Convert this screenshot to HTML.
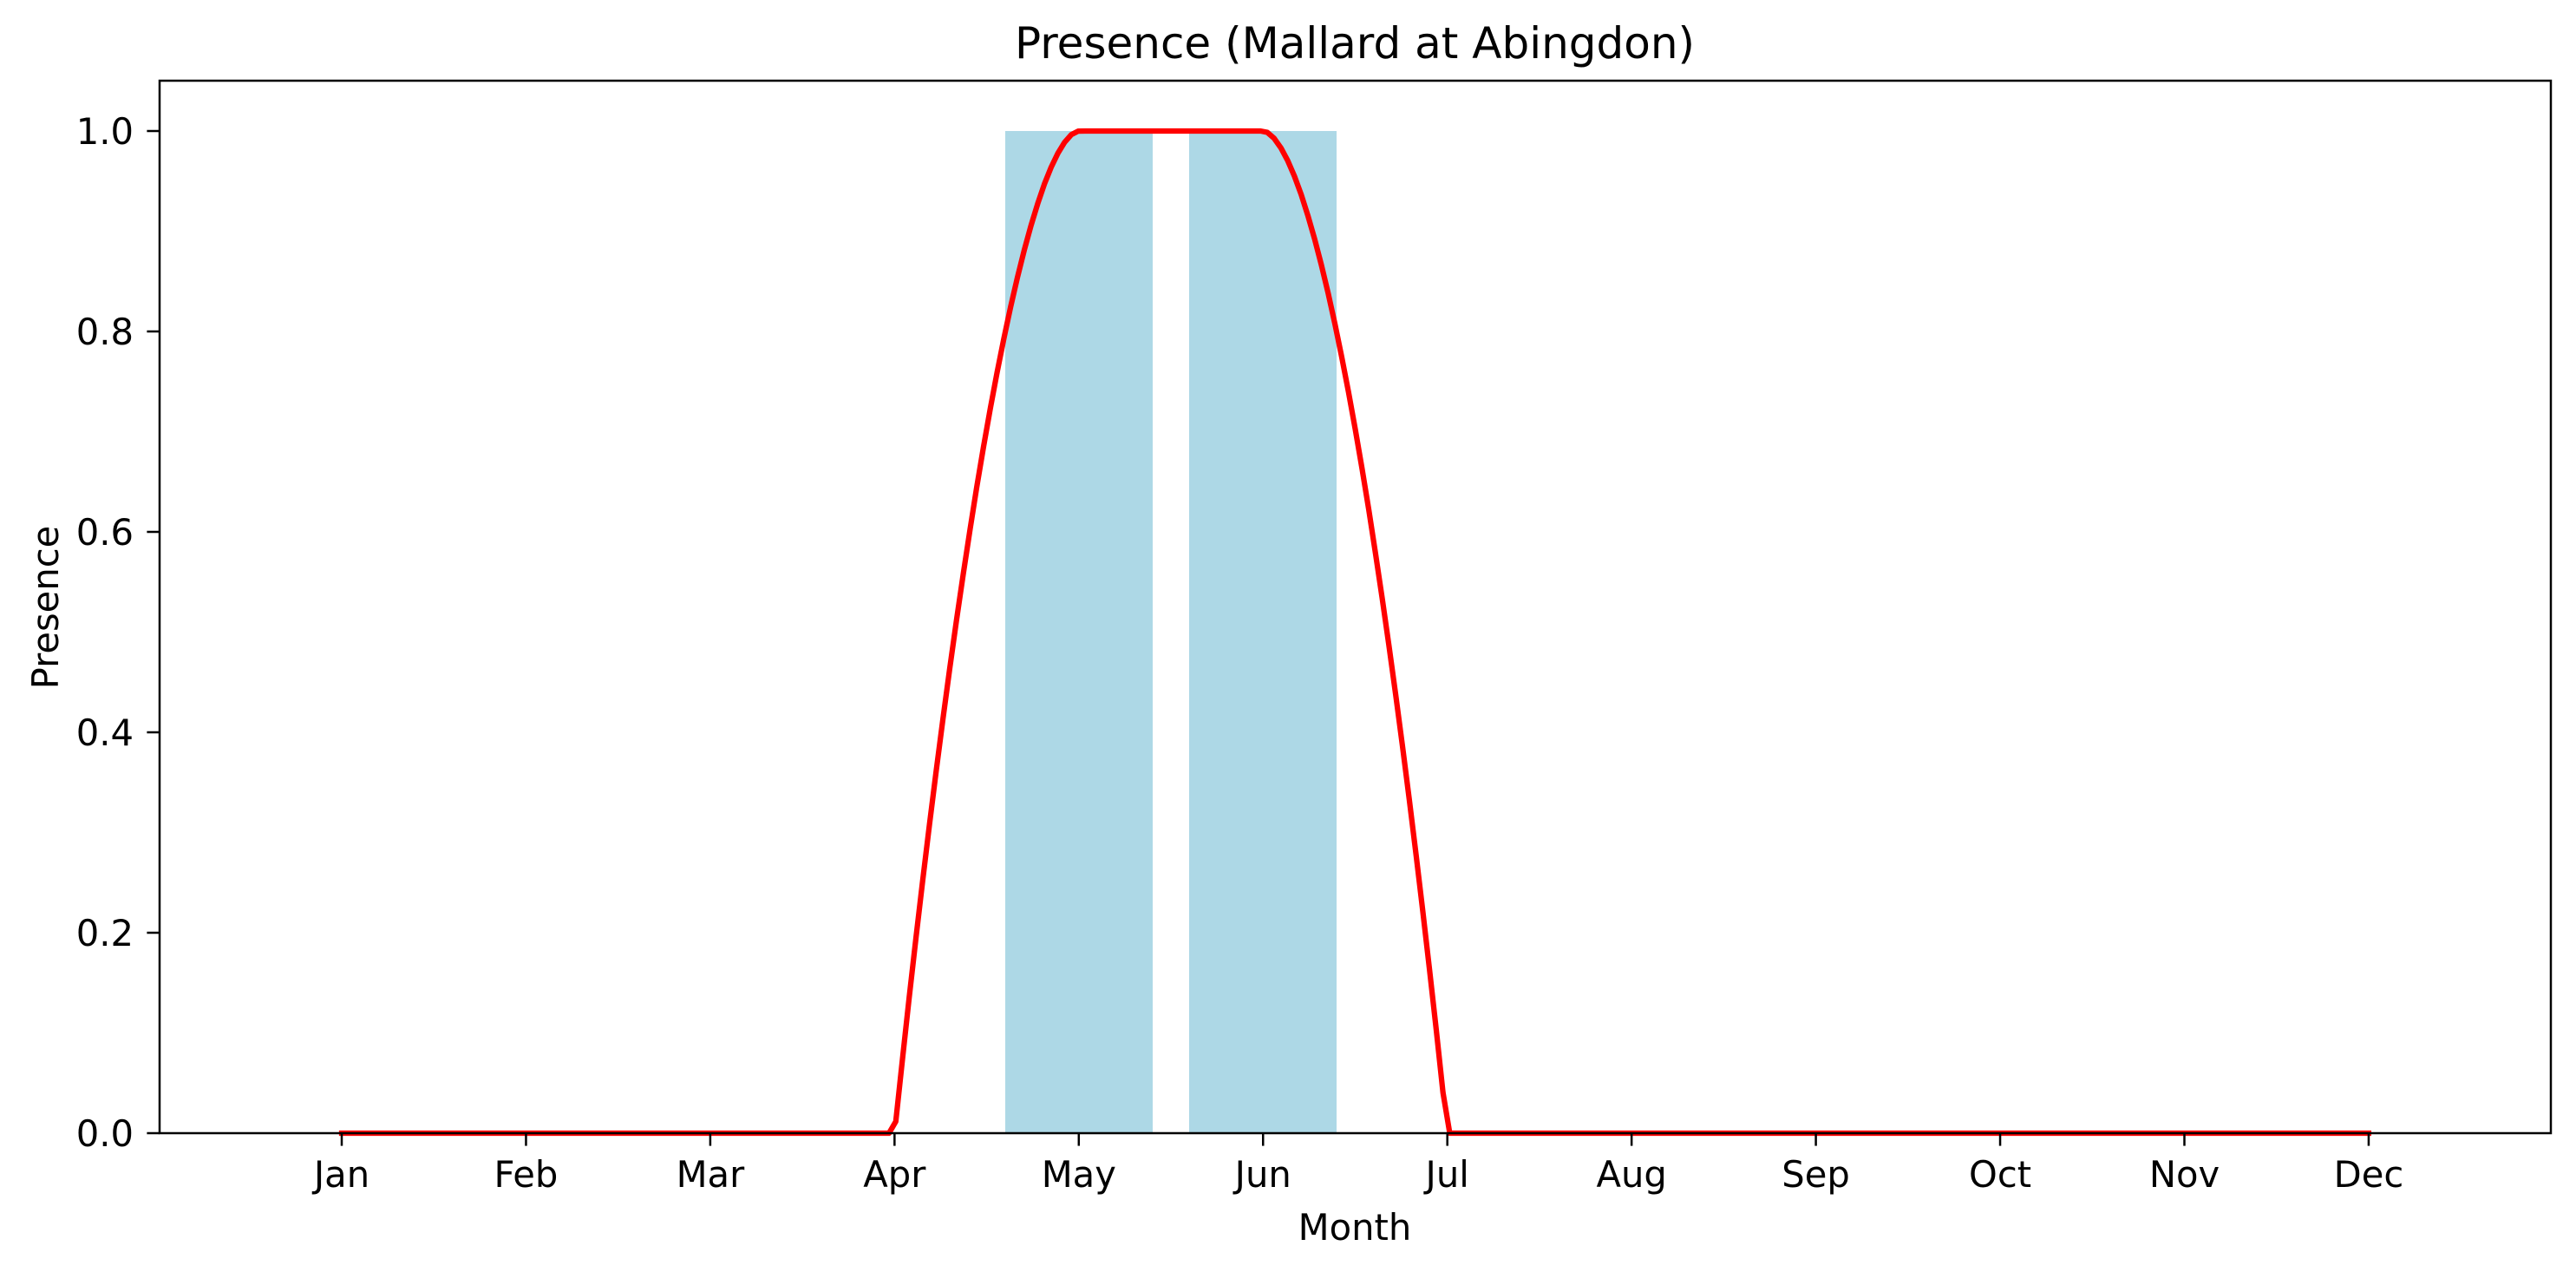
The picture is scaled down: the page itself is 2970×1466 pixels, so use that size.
<!DOCTYPE html>
<html><head><meta charset="utf-8"><style>
html,body{margin:0;padding:0;background:#fff;}
svg{display:block;font-family:"DejaVu Sans","Liberation Sans",sans-serif;}
</style></head><body>
<svg id="s" width="2970" height="1466" viewBox="0 0 2970 1466" xmlns="http://www.w3.org/2000/svg">
<rect width="2970" height="1466" fill="#fff"/>
<rect x="1159" y="151" width="170" height="1155" fill="#add8e6"/>
<rect x="1371" y="151" width="170" height="1155" fill="#add8e6"/>
<path id="curve" d="" fill="none" stroke="#ff0000" stroke-width="6.25" stroke-linejoin="round" stroke-linecap="square"/>
<rect x="184" y="93" width="2757" height="1213" fill="none" stroke="#000" stroke-width="2.5"/>
<g stroke="#000" stroke-width="2.5" id="ticks"></g>
<g font-size="41.7" fill="#000" id="labels"></g>
<text x="1562" y="67" font-size="50" text-anchor="middle">Presence (Mallard at Abingdon)</text>
<text x="1562" y="1429" font-size="41.7" text-anchor="middle">Month</text>
<text transform="translate(67,700) rotate(-90)" font-size="41.7" text-anchor="middle">Presence</text>
</svg>
<script>
(function(){
var ns="http://www.w3.org/2000/svg";
var x0=394,dx=212.45,y0=1306,yu=1155;
function X(m){return x0+(m-1)*dx;}
function Y(v){return y0-v*yu;}
var p=1.75,pts=[];
for(var i=0;i<=300;i++){
 var m=1+11*i/300;var v=0;
 if(m>4&&m<5){var t=m-4;v=1-Math.pow(1-t,p);}
 else if(m>=5&&m<=6){v=1;}
 else if(m>6&&m<7){var t=m-6;v=1-Math.pow(t,p);}
 pts.push(X(m).toFixed(1)+","+Y(v).toFixed(1));
}
document.getElementById("curve").setAttribute("d","M"+pts.join("L"));
var tk=document.getElementById("ticks"),lb=document.getElementById("labels");
var mons=["Jan","Feb","Mar","Apr","May","Jun","Jul","Aug","Sep","Oct","Nov","Dec"];
for(var k=0;k<12;k++){
 var x=X(k+1);
 var l=document.createElementNS(ns,"line");
 l.setAttribute("x1",x);l.setAttribute("x2",x);l.setAttribute("y1",1306);l.setAttribute("y2",1320.6);tk.appendChild(l);
 var t=document.createElementNS(ns,"text");t.setAttribute("x",x);t.setAttribute("y",1368);t.setAttribute("text-anchor","middle");t.textContent=mons[k];lb.appendChild(t);
}
for(var j=0;j<=5;j++){
 var v=j*0.2,y=Y(v);
 var l=document.createElementNS(ns,"line");
 l.setAttribute("x1",169.4);l.setAttribute("x2",184);l.setAttribute("y1",y);l.setAttribute("y2",y);tk.appendChild(l);
 var t=document.createElementNS(ns,"text");t.setAttribute("x",154);t.setAttribute("y",y+15);t.setAttribute("text-anchor","end");t.textContent=v.toFixed(1);lb.appendChild(t);
}
})();
</script>
</body></html>
